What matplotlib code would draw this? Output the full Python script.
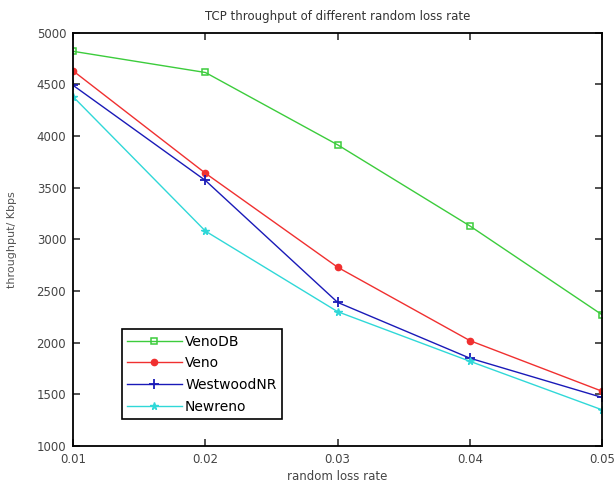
import matplotlib
matplotlib.use("Agg")
import matplotlib.pyplot as plt

loss_rate = [0.01, 0.02, 0.03, 0.04, 0.05]
venodb = [4820, 4615, 3915, 3130, 2270]
veno = [4630, 3640, 2730, 2020, 1530]
westwood = [4490, 3570, 2390, 1850, 1470]
newreno = [4380, 3080, 2300, 1820, 1350]

plt.rcParams['font.family'] = ['DejaVu Sans']

fig = plt.figure(figsize=(6.15, 4.92), dpi=100)
ax = fig.add_axes([0.119, 0.0935, 0.860, 0.840])

ax.plot(loss_rate, venodb, color="#3ccc3c", lw=1.0, marker="s", ms=4.5,
        mfc="none", mew=1.1, label="VenoDB")
ax.plot(loss_rate, veno, color="#f03030", lw=1.0, marker="o", ms=4.5,
        mew=1.0, label="Veno")
ax.plot(loss_rate, westwood, color="#1a1ab8", lw=1.0, marker="+", ms=6.5,
        mew=1.3, label="WestwoodNR")
ax.plot(loss_rate, newreno, color="#30d8d8", lw=1.0, marker="*", ms=5.5,
        label="Newreno")

ax.set_xlim(0.01, 0.05)
ax.set_ylim(1000, 5000)
ax.set_xticks(loss_rate)
ax.set_xticklabels(["0.01", "0.02", "0.03", "0.04", "0.05"])
ax.set_yticks(range(1000, 5001, 500))
ax.tick_params(direction="in", top=True, right=True, labelsize=8.5,
               length=5, width=1.2, colors="#333333", labelcolor="#444444",
               pad=5)
for s in ax.spines.values():
    s.set_linewidth(1.3)

ax.set_title("TCP throughput of different random loss rate", fontsize=8.5,
             color="#333333", pad=9)
ax.set_xlabel("random loss rate", fontsize=8.5, color="#444444", labelpad=3)
ax.set_ylabel("throughput/ Kbps", fontsize=8, color="#555555", labelpad=14)

leg = ax.legend(loc="lower left", bbox_to_anchor=(0.092, 0.065), fontsize=10,
                fancybox=False, edgecolor="black", framealpha=1,
                handlelength=3.9, borderpad=0.4, labelspacing=0.55,
                handletextpad=0.25, borderaxespad=0)
leg.get_frame().set_linewidth(1.2)

fig.savefig("out.png", dpi=100)
